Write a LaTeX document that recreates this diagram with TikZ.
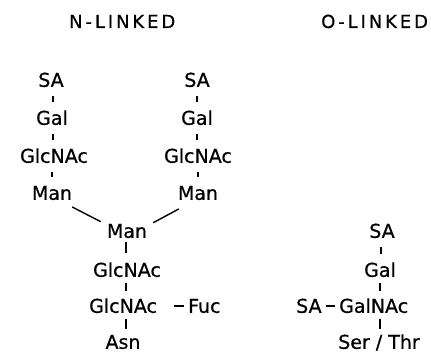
\documentclass[tikz,border=0pt]{standalone}
\usepackage{fontspec}
\setmainfont{DejaVu Sans}[FakeBold=0.7]
\newfontfamily\titlefont{DejaVu Sans}[FakeBold=0.5]
\newcommand\mytk{\kern2.9pt}
\begin{document}
\begin{tikzpicture}[x=1pt,y=-1pt,
  sugar/.style={inner sep=0pt,text height=13.9pt,text depth=0pt,anchor=south,font=\fontsize{19}{19}\selectfont},
  ttl/.style={inner sep=0pt,anchor=base west,font=\titlefont\fontsize{18}{18}\selectfont},
  bond/.style={line width=1.4pt,shorten <=9pt,shorten >=9pt},
  hbond/.style={line width=1.4pt}]
\useasboundingbox (0,0) rectangle (431,352);
% titles
\node[ttl] (tn) at (69,28) {N\mytk-\mytk L\mytk I\mytk N\mytk K\mytk E\mytk D};
\node[ttl] (to) at (321,28) {O\mytk-\mytk L\mytk I\mytk N\mytk K\mytk E\mytk D};
% left antenna
\node[sugar] (lsa) at (51,87) {SA};
\node[sugar] (lgal) at (52,125) {Gal};
\node[sugar] (lglc) at (54,163) {GlcNAc};
\node[sugar] (lman) at (52,200) {Man};
% right antenna
\node[sugar] (rsa) at (197,87) {SA};
\node[sugar] (rgal) at (197,125) {Gal};
\node[sugar] (rglc) at (198,163) {GlcNAc};
\node[sugar] (rman) at (198,200) {Man};
% core
\node[sugar] (cman) at (127,238) {Man};
\node[sugar] (cglc1) at (127,277) {GlcNAc};
\node[sugar,anchor=south west] (cglc2) at (89,313) {GlcNAc};
\node[sugar,anchor=south west] (fuc) at (188,313) {Fuc};
\node[sugar] (asn) at (123,349) {Asn};
% O-linked
\node[sugar] (osa) at (382,238) {SA};
\node[sugar] (ogal) at (380,277) {Gal};
\node[sugar,anchor=south west] (osa2) at (296,313) {SA};
\node[sugar,anchor=south west] (ogalnac) at (339,313) {GalNAc};
\node[sugar] (oser) at (379,349) {Ser / Thr};
% bonds
\draw[bond] ([xshift=2pt]lsa.south) -- ([xshift=2pt]lsa.south |- lgal.north);
\draw[bond] ([xshift=1pt]lgal.south) -- ([xshift=1pt]lgal.south |- lglc.north);
\draw[bond] (lglc.south -| lman) -- (lman.north);
\draw[bond] (rsa.south) -- (rsa.south |- rgal.north);
\draw[bond] (rgal.south) -- (rgal.south |- rglc.north);
\draw[bond] (rglc.south -| rman) -- (rman.north);
\draw[hbond] ([yshift=-7pt]lman.south east) -- ([xshift=-6pt,yshift=2pt]cman.north west);
\draw[hbond] ([xshift=1pt,yshift=-9pt]rman.south west) -- ([xshift=6pt,yshift=1pt]cman.north east);
\draw[bond,shorten <=4pt,shorten >=10pt] ([xshift=-1pt]cman.south) -- ([xshift=-1pt]cman.south |- cglc1.north);
\draw[bond,shorten <=6pt,shorten >=8pt] ([xshift=-1pt]cglc1.south) -- ([xshift=-1pt]cglc1.south |- cglc2.north);
\draw[bond,shorten <=6pt,shorten >=6pt] ([xshift=-1pt]cglc1.south |- cglc2.south) -- ([xshift=-1pt]cglc1.south |- asn.north);
\draw[hbond] ([xshift=-14pt]fuc.west) -- ([xshift=-4pt]fuc.west);
\draw[bond,shorten <=9pt,shorten >=9pt] ([xshift=-1pt]osa.south) -- ([xshift=-1pt]osa.south |- ogal.north);
\draw[bond,shorten <=6pt,shorten >=8pt] (ogal.south) -- (ogal.south |- ogalnac.north);
\draw[bond,shorten <=6pt,shorten >=6pt] (ogal.south |- ogalnac.south) -- (ogal.south |- oser.north);
\draw[hbond] ([xshift=-13pt]ogalnac.west) -- ([xshift=-4pt]ogalnac.west);
\end{tikzpicture}
\end{document}
